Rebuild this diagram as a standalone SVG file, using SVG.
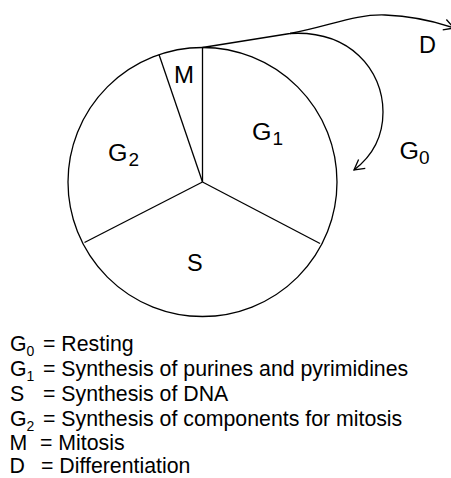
<svg xmlns="http://www.w3.org/2000/svg" width="451" height="478" viewBox="0 0 451 478">
<defs>
<style>
.ln{fill:none;stroke:#000;stroke-width:1.3}
.t{font-family:"Liberation Sans",Arial,sans-serif;font-size:23.5px;fill:#000}
.sb{font-size:19px}
.lg{font-family:"Liberation Sans",Arial,sans-serif;font-size:21.3px;fill:#000}
.ls{font-size:14px}
</style>
<marker id="ah" viewBox="-12 -7 14 14" markerWidth="14" markerHeight="14" refX="0" refY="0" orient="auto" markerUnits="userSpaceOnUse">
<path d="M-10,-5.5 L0,0 L-10,5.5" fill="none" stroke="#000" stroke-width="1.3"/>
</marker>
</defs>
<rect width="451" height="478" fill="#fff"/>
<g id="cycle">
<circle class="ln" cx="202.5" cy="182" r="134.5"/>
<line class="ln" x1="202.5" y1="182" x2="202.5" y2="47.5"/>
<line class="ln" x1="202.5" y1="182" x2="159" y2="54.5"/>
<line class="ln" x1="202.5" y1="182" x2="320" y2="243.5"/>
<line class="ln" x1="202.5" y1="182" x2="84.5" y2="242.5"/>
</g>
<g id="label-M"><text class="t" x="174" y="82.5" textLength="20" lengthAdjust="spacingAndGlyphs">M</text></g>
<g id="label-G1"><text class="t" x="252" y="140" textLength="19.5" lengthAdjust="spacingAndGlyphs">G</text><text class="t sb" x="272.5" y="144.5">1</text></g>
<g id="label-G2"><text class="t" x="108" y="161" textLength="19.5" lengthAdjust="spacingAndGlyphs">G</text><text class="t sb" x="128.5" y="166">2</text></g>
<g id="label-S"><text class="t" x="187" y="271">S</text></g>
<g id="label-G0"><text class="t" x="399.5" y="158.5" textLength="19.5" lengthAdjust="spacingAndGlyphs">G</text><text class="t sb" x="419" y="163.5">0</text></g>
<g id="label-D"><text class="t" x="419" y="53">D</text></g>
<g id="connectors">
<path class="ln" d="M202.5,47.5 L290,33.5 C330,26 355,14 385,15 C410,16 434,21 454,28" marker-end="url(#ah)"/>
<path class="ln" d="M290,33.5 C350,30 383,70 383,112 C383,138 371,157 354,170" marker-end="url(#ah)"/>
</g>
<g id="legend">
<text class="lg" x="10" y="351">G<tspan class="ls" dy="5">0</tspan></text><text class="lg" x="43" y="351">= Resting</text>
<text class="lg" x="10" y="376">G<tspan class="ls" dy="5">1</tspan></text><text class="lg" x="43" y="376">= Synthesis of purines and pyrimidines</text>
<text class="lg" x="10" y="401">S</text><text class="lg" x="43" y="401">= Synthesis of DNA</text>
<text class="lg" x="10" y="426">G<tspan class="ls" dy="5">2</tspan></text><text class="lg" x="43" y="426">= Synthesis of components for mitosis</text>
<text class="lg" x="9.5" y="450">M</text><text class="lg" x="40" y="450">= Mitosis</text>
<text class="lg" x="9.5" y="473">D</text><text class="lg" x="41" y="473">= Differentiation</text>
</g>
</svg>
